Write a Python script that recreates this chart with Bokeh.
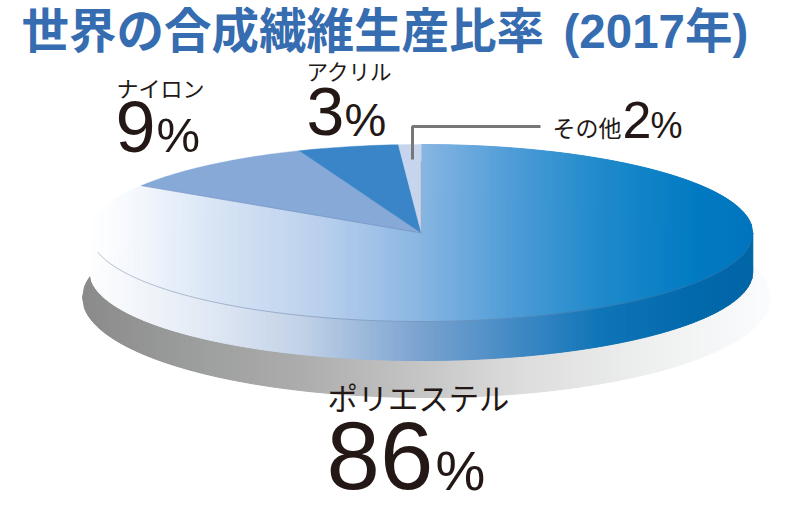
import math
from bokeh.plotting import figure
from bokeh.embed import file_html
from bokeh.resources import INLINE
from bokeh.core.properties import value

# Data
categories = ["ポリエステル", "ナイロン", "アクリル", "その他"]
label_values = [86, 9, 3, 2]
# Slice sizes as drawn in the picture (the tilted pie distorts them against its printed labels)
drawn_shares = [84.0, 10.0, 4.9, 1.1]
title_main = "世界の合成繊維生産比率"
title_year = "(2017年)"
slice_colors = [None, "#87a9d8", "#3a85c8", "#c6d4ee"]

# Gradient stops (pixel x, colour)
TOP = [(90, "#ffffff"), (130, "#f6f9fe"), (213, "#d9e5f5"), (313, "#bdd2ee"), (413, "#8db8e3"),
       (520, "#4a9ad6"), (600, "#1f8acb"), (700, "#007ac2"), (752, "#0075bd")]
SIDE = [(89, "#ffffff"), (200, "#e4ebf6"), (300, "#c3d3e8"), (420, "#7aa3d0"), (520, "#3f88c4"),
        (600, "#0f75b8"), (700, "#0068aa"), (752, "#0065a6")]
SHADOW = [(82, "#8a8a8a"), (200, "#9d9e9e"), (300, "#abacab"), (420, "#c5c5c5"), (520, "#dcdcdc"),
          (650, "#eeefef"), (770, "#fbfcfd")]

CX, CY, RX, RY, DEPTH = 420.8, 232.5, 331.5, 88.5, 39.0
SX, SY, SRX, SRY = 426.0, 297.0, 344.0, 100.0


def rgb(h):
    return [int(h[i:i + 2], 16) for i in (1, 3, 5)]


def grad(stops, x):
    if x <= stops[0][0]:
        return stops[0][1]
    for (x0, c0), (x1, c1) in zip(stops, stops[1:]):
        if x <= x1:
            t = (x - x0) / (x1 - x0)
            a, b = rgb(c0), rgb(c1)
            return "#%02x%02x%02x" % tuple(round(a[i] + (b[i] - a[i]) * t) for i in range(3))
    return stops[-1][1]


def half(x, cx, rx, ry):
    return ry * math.sqrt(max(0.0, 1 - ((x - cx) / rx) ** 2))


def frange(a, b, step=1.0):
    out = []
    x = a
    while x < b:
        out.append(x)
        x += step
    out.append(b)
    return out


def point(frac):
    ang = 2 * math.pi * frac
    return CX + RX * math.sin(ang), CY - RY * math.cos(ang)


p = figure(width=800, height=512, x_range=(0, 800), y_range=(512, 0), min_border=0,
           output_backend="svg", toolbar_location=None)
p.axis.visible = False
p.grid.visible = False
p.outline_line_color = None


def strips(lo, hi, stops, upper, lower, step=2.0):
    xs, ys, cs = [], [], []
    grid = frange(lo, hi, step)
    for a, b in zip(grid, grid[1:]):
        xs.append([a, b, b, a])
        ys.append([upper(a), upper(b), lower(b), lower(a)])
        cs.append(grad(stops, (a + b) / 2))
    p.patches(xs, ys, fill_color=cs, line_color=cs, line_width=1.0)


# Ground shadow
strips(SX - SRX, SX + SRX, SHADOW,
       lambda x: SY - half(x, SX, SRX, SRY), lambda x: SY + half(x, SX, SRX, SRY))

# Pie wall
strips(CX - RX, CX + RX, SIDE,
       lambda x: CY + half(x, CX, RX, RY), lambda x: CY + DEPTH + half(x, CX, RX, RY))

# Polyester, the large slice with its gradient
total = sum(drawn_shares)
end = drawn_shares[0] / total
bx, by = point(end)


def poly_upper(x):
    if x < bx or x >= CX:
        return CY - half(x, CX, RX, RY)
    return CY + (by - CY) * (CX - x) / (CX - bx)


lo = CX - RX
strips(lo, bx, TOP, poly_upper, lambda x: CY + half(x, CX, RX, RY))
strips(bx, CX, TOP, poly_upper, lambda x: CY + half(x, CX, RX, RY))
strips(CX, CX + RX, TOP, poly_upper, lambda x: CY + half(x, CX, RX, RY))

# Flat slices
start = end
for share, col in zip(drawn_shares[1:], slice_colors[1:]):
    f0, f1 = start, start + share / total
    n = max(4, int(share * 3))
    pts = [point(f0 + (f1 - f0) * i / n) for i in range(n + 1)]
    p.patch([CX] + [q[0] for q in pts], [CY] + [q[1] for q in pts],
            fill_color=col, line_color=col, line_width=0.4)
    start = f1

# Hairlines on the rim and the slice edge
rim = frange(CX - RX + 8, CX + RX - 2, 4)
p.line(rim, [CY + half(x, CX, RX, RY) for x in rim], line_color="#5d7294", line_width=0.6, line_alpha=0.7)
p.line([CX, CX], [CY - 72, CY], line_color="#8f9bb0", line_width=0.7)
p.line([bx, CX], [by, CY], line_color="#6f8cb8", line_width=0.5)

# Leader of その他
p.line([540, 412, 412], [126, 126, 159], line_color="#777777", line_width=3)


def label(x, y, text, size, font, weight="normal", color="#231815"):
    p.text([x], [y], text=[text], text_font=value(font), text_font_size=f"{size}px",
           text_font_style=weight, text_color=color, text_align="left", text_baseline="middle")


JP = "Noto Sans CJK JP"
NUM = "Liberation Sans"
TITLE_FONT = "'Liberation Sans', 'Noto Sans CJK JP'"
BLUE = "#366cb0"

label(21, 30.5, title_main, 47.5, TITLE_FONT, "bold", BLUE)
label(563, 30.5, title_year, 47.5, TITLE_FONT, "bold", BLUE)

label(116, 86, categories[1], 22, JP)
label(115, 126, str(label_values[1]), 72, NUM)
label(156, 134, "%", 49, NUM)

label(306, 70, categories[2], 21.5, JP)
label(306, 111, str(label_values[2]), 68, NUM)
label(344, 119, "%", 47, NUM)

label(552, 126, categories[3], 23, JP)
label(622, 119, str(label_values[3]), 52, NUM)
label(650, 125, "%", 36, NUM)

label(327, 396, categories[0], 30.3, JP)
label(326, 455, str(label_values[0]), 96, NUM)
label(435, 470, "%", 56, NUM)

open("out.html", "w").write(file_html(p, INLINE))
